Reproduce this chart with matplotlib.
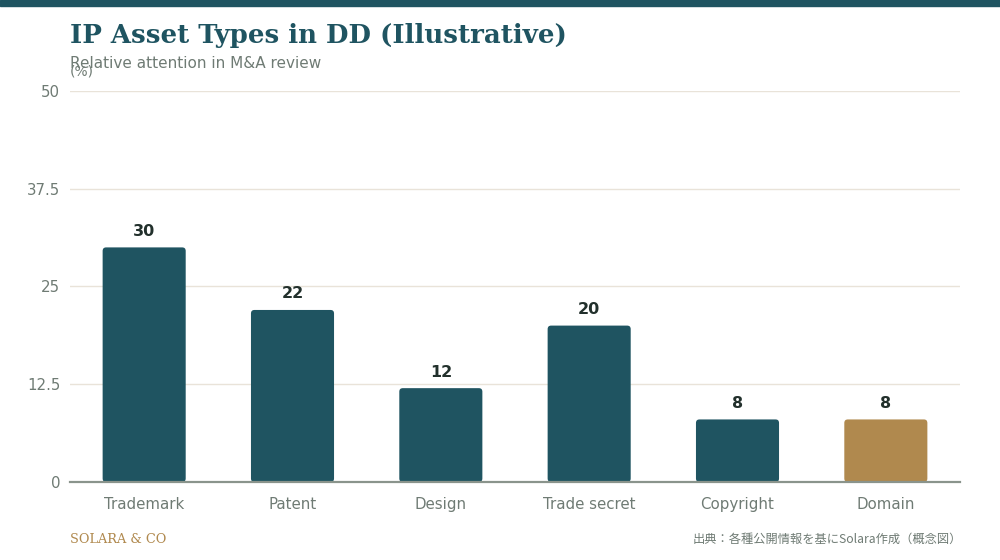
import matplotlib

matplotlib.use("Agg")
import matplotlib.pyplot as plt
from matplotlib.patches import FancyBboxPatch

categories = ["Trademark", "Patent", "Design", "Trade secret", "Copyright", "Domain"]
values = [30, 22, 12, 20, 8, 8]
yticks = [0, 12.5, 25, 37.5, 50]
ytick_labels = ["0", "12.5", "25", "37.5", "50"]

teal = "#1f5461"
gold = "#b0894e"
grey = "#6f7b74"
bar_colors = [teal, teal, teal, teal, teal, gold]

fig = plt.figure(figsize=(10, 5.6), dpi=100)
ax = fig.add_axes([0.07, 0.1393, 0.89, 0.6982])

# top band
fig.patches.append(plt.Rectangle((0, 0.989), 1, 0.011, transform=fig.transFigure,
                                 color=teal, zorder=10))

ax.set_xlim(-0.5, len(categories) - 0.5)
ax.set_ylim(0, 50)

# rounded bars (px radius converted to data units)
px_x = (len(categories)) / 890.0
px_y = 50 / 391.0
width = 0.56
for i, (v, c) in enumerate(zip(values, bar_colors)):
    r = 3.5 * px_x
    p = FancyBboxPatch((i - width / 2, 0), width, v,
                       boxstyle=f"round,pad=0,rounding_size={r}",
                       mutation_aspect=px_y / px_x,
                       facecolor=c, edgecolor="none", zorder=3)
    ax.add_patch(p)
    ax.text(i, v + 1.1, str(v), ha="center", va="bottom", fontsize=11.5,
            fontweight="bold", color="#22302c")

ax.set_yticks(yticks)
ax.set_yticklabels(ytick_labels)
ax.set_xticks(range(len(categories)))
ax.set_xticklabels(categories)
ax.tick_params(axis="both", length=0, labelsize=10.8, colors=grey)
ax.tick_params(axis="x", pad=10.5)
ax.tick_params(axis="y", pad=7)
ax.grid(axis="y", color="#e9e3d9", linewidth=1, zorder=0)
for s in ["top", "right", "left"]:
    ax.spines[s].set_visible(False)
ax.spines["bottom"].set_color("#8a948c")
ax.spines["bottom"].set_linewidth(1.6)
ax.spines["bottom"].set_zorder(5)

fig.text(0.07, 0.924, "IP Asset Types in DD (Illustrative)", fontsize=18.7,
         fontweight="bold", family="DejaVu Serif", color=teal, va="baseline")
fig.text(0.07, 0.879, "Relative attention in M&A review", fontsize=11,
         color=grey, va="baseline")
fig.text(0.07, 0.865, "(%)", fontsize=10, color=grey, va="baseline")

fig.text(0.07, 0.031, "SOLARA & CO", fontsize=9.3, family="DejaVu Serif",
         color=gold, va="baseline")
fig.text(0.962, 0.031, "出典：各種公開情報を基にSolara作成（概念図）", fontsize=8.8,
         family=["Noto Sans CJK JP", "DejaVu Sans"], color=grey,
         ha="right", va="baseline")

fig.savefig("out.png", dpi=100)
